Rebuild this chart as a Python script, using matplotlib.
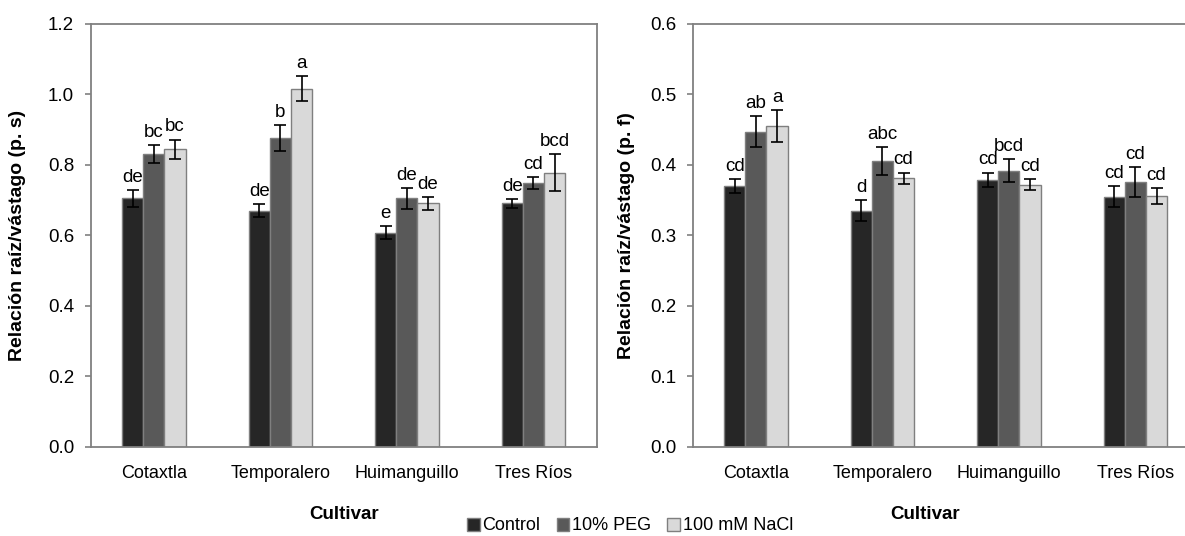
import numpy as np
import matplotlib
matplotlib.use("Agg")
import matplotlib.pyplot as plt

plt.rcParams['font.family'] = ['Liberation Sans', 'DejaVu Sans']

cultivars = ["Cotaxtla", "Temporalero", "Huimanguillo", "Tres Ríos"]
treatments = ["Control", "10% PEG", "100 mM NaCl"]
colors = ["#262626", "#595959", "#d9d9d9"]

# relación raíz/vástago, peso seco
ps_control = [0.705, 0.670, 0.608, 0.691]
ps_peg = [0.831, 0.877, 0.705, 0.749]
ps_nacl = [0.844, 1.016, 0.691, 0.778]
ps_err_control = [0.024, 0.018, 0.018, 0.013]
ps_err_peg = [0.026, 0.037, 0.029, 0.017]
ps_err_nacl = [0.028, 0.035, 0.018, 0.052]
ps_letters_control = ["de", "de", "e", "de"]
ps_letters_peg = ["bc", "b", "de", "cd"]
ps_letters_nacl = ["bc", "a", "de", "bcd"]

# relación raíz/vástago, peso fresco
pf_control = [0.370, 0.335, 0.379, 0.355]
pf_peg = [0.447, 0.405, 0.392, 0.376]
pf_nacl = [0.455, 0.381, 0.372, 0.356]
pf_err_control = [0.010, 0.015, 0.010, 0.015]
pf_err_peg = [0.022, 0.020, 0.016, 0.021]
pf_err_nacl = [0.023, 0.008, 0.008, 0.011]
pf_letters_control = ["cd", "d", "cd", "cd"]
pf_letters_peg = ["ab", "abc", "bcd", "cd"]
pf_letters_nacl = ["a", "cd", "cd", "cd"]

W, H = 1185, 536
fig = plt.figure(figsize=(W / 100, H / 100), dpi=100)

ax_l = fig.add_axes([90.7 / W, 1 - 446.7 / H, 506 / W, 422.7 / H])
ax_r = fig.add_axes([692.7 / W, 1 - 446.7 / H, 506 / W, 422.7 / H])

x = np.arange(len(cultivars))
bw = 0.5 / 3


def draw_panel(ax, series, errs, letters, ymax, ylabel, xlab_x):
    for i, (vals, err, lab) in enumerate(zip(series, errs, letters)):
        pos = x + (i - 1) * bw
        ax.bar(pos, vals, bw, color=colors[i], edgecolor="#7f7f7f",
               linewidth=1.0, label=treatments[i], zorder=2)
        ax.errorbar(pos, vals, yerr=err, fmt="none", ecolor="black",
                    elinewidth=1.2, capsize=4, capthick=1.2, zorder=3)
        for p, v, e, t in zip(pos, vals, err, lab):
            ax.annotate(t, (p, v + e), xytext=(0, 3), textcoords="offset points",
                        ha="center", va="bottom", fontsize=13.5)
    ax.set_xlim(-0.5, len(cultivars) - 0.5)
    ax.set_ylim(0, ymax)
    ax.set_yticks(np.linspace(0, ymax, 7))
    ax.yaxis.set_major_formatter(plt.FormatStrFormatter("%.1f"))
    ax.set_xticks(x)
    ax.set_xticklabels(cultivars)
    ax.tick_params(axis="x", length=0, pad=13, labelsize=13)
    ax.tick_params(axis="y", length=4, width=1.2, color="#808080",
                   pad=8, labelsize=13.5)
    for s in ax.spines.values():
        s.set_color("#808080")
        s.set_linewidth(1.3)
    ax.set_ylabel(ylabel, fontsize=14, fontweight="bold")
    ax.set_xlabel("Cultivar", fontsize=13.5, fontweight="bold")
    ax.xaxis.set_label_coords(xlab_x, -0.14)


draw_panel(ax_l, [ps_control, ps_peg, ps_nacl],
           [ps_err_control, ps_err_peg, ps_err_nacl],
           [ps_letters_control, ps_letters_peg, ps_letters_nacl],
           1.2, "Relación raíz/vástago (p. s)", 0.5)
ax_l.yaxis.set_label_coords(-0.128, 0.5)

draw_panel(ax_r, [pf_control, pf_peg, pf_nacl],
           [pf_err_control, pf_err_peg, pf_err_nacl],
           [pf_letters_control, pf_letters_peg, pf_letters_nacl],
           0.6, "Relación raíz/vástago (p. f)", 0.459)
ax_r.yaxis.set_label_coords(-0.114, 0.5)

handles, labels = ax_l.get_legend_handles_labels()
fig.legend(handles, labels, loc="center", bbox_to_anchor=(630 / W, 1 - 526 / H),
           ncol=3, frameon=False, fontsize=13, handlelength=0.7, handleheight=0.7,
           handletextpad=0.15, columnspacing=0.9, borderpad=0)

fig.savefig("out.png", dpi=100)
